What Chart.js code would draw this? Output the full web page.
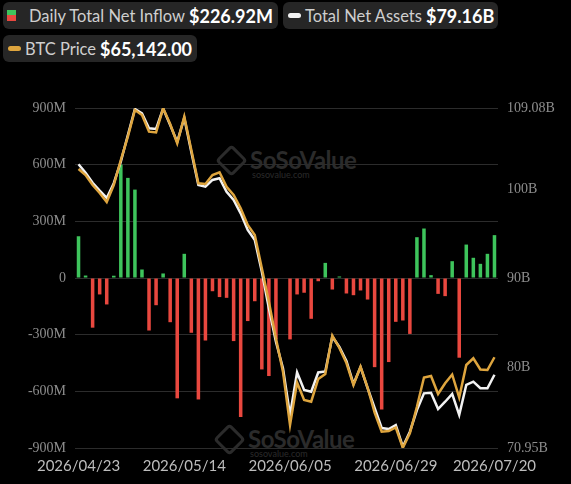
<!DOCTYPE html>
<html>
<head>
<meta charset="utf-8">
<script src="https://cdn.jsdelivr.net/npm/chart.js@4.4.1/dist/chart.umd.min.js"></script>
<style>
  body { margin: 0; background: #000; width: 571px; height: 484px; overflow: hidden; font-family: Lato, sans-serif; }
  #stage { position: relative; width: 571px; height: 484px; }
  #chart { position: absolute; left: 0; top: 0; z-index: 2; }
  .box { position: absolute; background: #262626; border-radius: 6px; height: 27px; display: flex; align-items: center; white-space: nowrap; z-index: 3; }
  .box .lbl { color: #cfcfcf; font-size: 16.5px; margin-right: 4px; }
  .box .val { color: #fff; font-size: 18px; font-weight: bold; }
  .pill { flex: 0 0 13px; width: 13px; height: 5px; border-radius: 3px; margin: 0 4px 0 5px; }
  .sq { flex: 0 0 9px; width: 9px; height: 11px; margin: 0 13px 0 4px; background: linear-gradient(#3ec45c 50%, #e9483f 50%); }
  .wm { position: absolute; z-index: 1; color: #2b2b2b; }
  .wm .name { font-size: 24px; font-weight: bold; letter-spacing: -0.5px; }
  .wm .site { font-size: 9px; margin-top: -5px; margin-left: 2px; }
  .wm .icon { position: absolute; left: -30px; top: 4px; width: 17px; height: 17px; border: 3px solid #2b2b2b; border-radius: 4px; transform: rotate(45deg); }
</style>
</head>
<body>
<div id="stage">
  <div class="box" style="left:3px;top:2px;width:275px;">
    <div class="sq"></div><span class="lbl">Daily Total Net Inflow</span><span class="val">$226.92M</span>
  </div>
  <div class="box" style="left:283px;top:2px;width:215px;">
    <div class="pill" style="background:#f2f2f2"></div><span class="lbl">Total Net Assets</span><span class="val">$79.16B</span>
  </div>
  <div class="box" style="left:3px;top:35px;width:194px;">
    <div class="pill" style="background:#dea53e"></div><span class="lbl">BTC Price</span><span class="val">$65,142.00</span>
  </div>

  <div class="wm" style="left:250px;top:145px;"><div class="icon"></div><div class="name">SoSoValue</div><div class="site">sosovalue.com</div></div>
  <div class="wm" style="left:248px;top:424px;"><div class="icon"></div><div class="name">SoSoValue</div><div class="site">sosovalue.com</div></div>

  <canvas id="chart" width="571" height="484"></canvas>
</div>

<script>
// trading days shown on the x axis
const dates = [
  '2026/04/23', '2026/04/24', '2026/04/27', '2026/04/28', '2026/04/29', '2026/04/30', '2026/05/01',
  '2026/05/04', '2026/05/05', '2026/05/06', '2026/05/07', '2026/05/08',
  '2026/05/11', '2026/05/12', '2026/05/13', '2026/05/14', '2026/05/15',
  '2026/05/18', '2026/05/19', '2026/05/20', '2026/05/21', '2026/05/22',
  '2026/05/26', '2026/05/27', '2026/05/28', '2026/05/29',
  '2026/06/01', '2026/06/02', '2026/06/03', '2026/06/04', '2026/06/05',
  '2026/06/08', '2026/06/09', '2026/06/10', '2026/06/11', '2026/06/12',
  '2026/06/15', '2026/06/16', '2026/06/17', '2026/06/18',
  '2026/06/22', '2026/06/23', '2026/06/24', '2026/06/25', '2026/06/26',
  '2026/06/29', '2026/06/30', '2026/07/01', '2026/07/02',
  '2026/07/06', '2026/07/07', '2026/07/08', '2026/07/09', '2026/07/10',
  '2026/07/13', '2026/07/14', '2026/07/15', '2026/07/16', '2026/07/17',
  '2026/07/20'
];

// daily total net inflow, million USD
const inflow = [
  221, 13, -263, -87, -140, 12, 600, 530, 468, 45,
  -278, -144, 24, -234, -637, 128, -290, -643, -331, -70,
  -101, -105, -334, -736, -228, -123, -484, -519, -325, 0,
  -325, -87, -78, -216, -17, 80, -61, 8, -82, -91,
  -66, -114, -472, -696, -445, -232, -225, -296, 216, 262,
  15, -84, -96, 89, -422, 177, 107, 75, 128, 226.92
];

// total net assets, billion USD
const netAssets = [
  102.77, 101.83, 100.70, 99.81, 98.99, 100.64, 103.06, 106.05, 108.97, 108.49,
  106.80, 106.73, 109.02, 107.17, 105.27, 107.96, 104.15, 100.45, 100.25, 101.01,
  101.20, 99.69, 98.76, 97.27, 95.40, 94.28, 90.72, 86.62, 82.87, 79.89,
  74.65, 79.42, 77.45, 77.26, 79.42, 79.53, 83.43, 82.28, 80.71, 78.13,
  80.03, 77.68, 75.44, 73.19, 73.08, 73.53, 71.10, 72.78, 75.21, 77.08,
  77.15, 75.32, 76.14, 77.01, 74.65, 78.02, 78.39, 77.65, 77.65, 79.16
];

// BTC price, USD
const btcPrice = [
  82028, 81490, 80593, 79875, 79068, 80593, 82835, 84926, 87321, 86872,
  85374, 85302, 87473, 86065, 84333, 86720, 83732, 80745, 80682, 81490,
  81732, 80440, 79696, 78503, 77004, 76107, 73120, 70124, 66841, 63845,
  59063, 62876, 61306, 61153, 63190, 63638, 67092, 65971, 64625, 62651,
  64293, 62427, 60185, 58462, 58520, 58839, 57020, 58319, 60705, 63324,
  63459, 61844, 62804, 63593, 61530, 64446, 65047, 64042, 63997, 65142
];

const xTickLabels = ['2026/04/23', '2026/05/14', '2026/06/05', '2026/06/29', '2026/07/20'];
const leftTicks = [-900, -600, -300, 0, 300, 600, 900];
const rightTicks = [70.95, 80, 90, 100, 109.08];

const GREEN = '#3ec45c';
const RED = '#e9483f';
const axisFont = { family: "'Liberation Serif', 'DejaVu Serif', serif", size: 14 };

new Chart(document.getElementById('chart'), {
  data: {
    labels: dates,
    datasets: [
      {
        type: 'line',
        label: 'BTC Price',
        data: btcPrice,
        yAxisID: 'yBtc',
        borderColor: '#dea53e',
        borderWidth: 2.5,
        pointRadius: 0,
        tension: 0,
        order: 1
      },
      {
        type: 'line',
        label: 'Total Net Assets',
        data: netAssets,
        yAxisID: 'yAssets',
        borderColor: '#f2f2f2',
        borderWidth: 2.5,
        pointRadius: 0,
        tension: 0,
        order: 2
      },
      {
        type: 'bar',
        label: 'Daily Total Net Inflow',
        data: inflow,
        yAxisID: 'yFlow',
        backgroundColor: inflow.map(v => v >= 0 ? GREEN : RED),
        barPercentage: 0.5,
        categoryPercentage: 1,
        order: 3
      }
    ]
  },
  options: {
    responsive: false,
    animation: false,
    devicePixelRatio: 1,
    layout: { padding: { top: 108, left: 0, right: 0, bottom: 0 } },
    plugins: { legend: { display: false }, tooltip: { enabled: false } },
    scales: {
      x: {
        offset: true,
        grid: { display: false, drawTicks: false },
        border: { display: false },
        ticks: {
          autoSkip: false,
          maxRotation: 0,
          padding: 9,
          color: '#bdbdbd',
          font: { family: 'Lato', size: 15 },
          callback: (v, i) => xTickLabels.includes(dates[i]) ? dates[i] : ''
        },
        afterFit: s => { s.height = 36; }
      },
      yFlow: {
        position: 'left',
        min: -900,
        max: 900,
        afterBuildTicks: s => { s.ticks = leftTicks.map(v => ({ value: v })); },
        grid: { color: '#2c2c2c', drawTicks: false },
        border: { display: false },
        ticks: {
          padding: 9,
          color: '#8d8d8d',
          font: axisFont,
          callback: v => v === 0 ? '0' : v + 'M'
        },
        afterFit: s => { s.width = 75; }
      },
      yAssets: {
        position: 'right',
        min: 70.95,
        max: 109.08,
        afterBuildTicks: s => { s.ticks = rightTicks.map(v => ({ value: v })); },
        grid: { display: false, drawTicks: false },
        border: { display: false },
        ticks: {
          padding: 9,
          color: '#8d8d8d',
          font: axisFont,
          callback: v => v + 'B'
        },
        afterFit: s => { s.width = 73; }
      },
      yBtc: {
        display: false,
        min: 57000,
        max: 87500
      }
    }
  }
});
</script>
</body>
</html>
